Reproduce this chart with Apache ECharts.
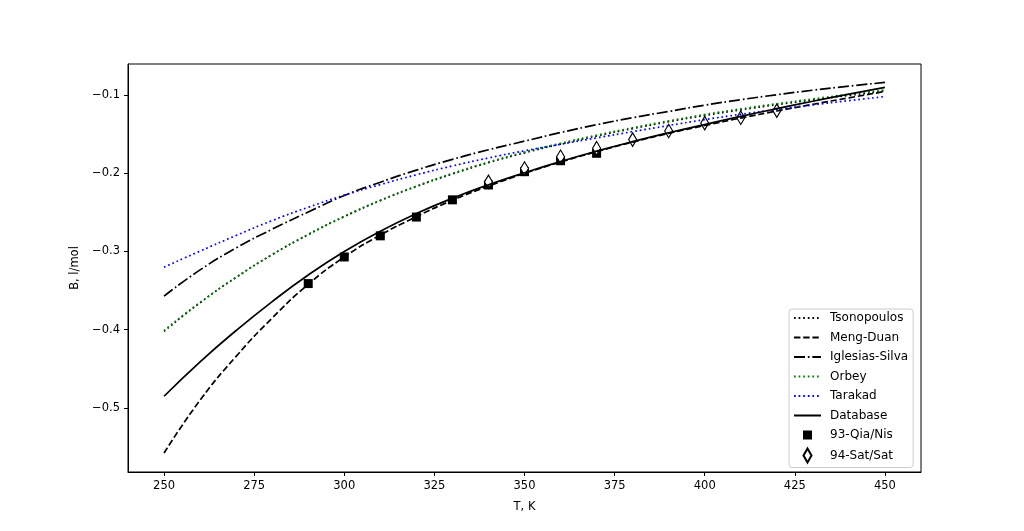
<!DOCTYPE html>
<html lang="en">
<head>
<meta charset="UTF-8">
<title>B vs T</title>
<script src="https://cdn.jsdelivr.net/npm/echarts@6/dist/echarts.min.js"></script>
<style>html,body{margin:0;padding:0;background:#fff;}</style>
</head>
<body>
<div id="main" style="width:1024px;height:531px;"></div>
<script>
// temperature grid for the correlation curves, K
var temps = [250, 260, 270, 280, 290, 300, 310, 320, 330, 340, 350,
             360, 370, 380, 390, 400, 410, 420, 430, 440, 450];

// second virial coefficient B, l/mol
var tsonopoulos = [-0.402, -0.3655, -0.333, -0.304, -0.2785, -0.2555, -0.235, -0.217, -0.201, -0.1865, -0.174,
                   -0.1627, -0.1524, -0.143, -0.1342, -0.1262, -0.119, -0.1124, -0.1063, -0.1005, -0.095];
var mengDuan = [-0.5575, -0.490, -0.434, -0.385, -0.342, -0.307, -0.279, -0.2555, -0.2345, -0.2165, -0.2003,
                -0.1857, -0.1724, -0.1602, -0.149, -0.139, -0.1295, -0.1205, -0.1119, -0.1036, -0.0955];
var iglesiasSilva = [-0.357, -0.3235, -0.2955, -0.2715, -0.2495, -0.2285, -0.2115, -0.196, -0.1823, -0.170, -0.159,
                     -0.148, -0.138, -0.129, -0.121, -0.113, -0.106, -0.0997, -0.0939, -0.0887, -0.084];
var orbey = [-0.401, -0.365, -0.333, -0.304, -0.278, -0.255, -0.2345, -0.2164, -0.2002, -0.1857, -0.173,
             -0.1617, -0.1514, -0.1419, -0.1331, -0.125, -0.1178, -0.1112, -0.105, -0.0991, -0.0935];
var tarakad = [-0.320, -0.2995, -0.2795, -0.2605, -0.2435, -0.228, -0.2145, -0.202, -0.1907, -0.1805, -0.1713,
               -0.163, -0.1548, -0.1468, -0.139, -0.1315, -0.1247, -0.1185, -0.1127, -0.1072, -0.102];
var database = [-0.485, -0.441, -0.401, -0.364, -0.330, -0.300, -0.274, -0.2515, -0.232, -0.2148, -0.1993,
                -0.185, -0.1718, -0.1596, -0.1483, -0.1378, -0.1273, -0.1174, -0.108, -0.099, -0.0903];

// experimental points
var qiaT = [290, 300, 310, 320, 330, 340, 350, 360, 370];
var qiaB = [-0.341, -0.307, -0.280, -0.256, -0.234, -0.215, -0.198, -0.184, -0.1745];
var satT = [340, 350, 360, 370, 380, 390, 400, 410, 420];
var satB = [-0.211, -0.194, -0.179, -0.168, -0.157, -0.146, -0.136, -0.129, -0.120];

// ticks
var xTicks = [250, 275, 300, 325, 350, 375, 400, 425, 450];
var yTicks = [-0.5, -0.4, -0.3, -0.2, -0.1];

var FONT = 'DejaVu Sans';
var LW = 1.7;

function pairs(xs, ys) {
    return xs.map(function (x, i) { return [x, ys[i]]; });
}

function curve(name, values, color, dash) {
    return {
        name: name,
        type: 'line',
        data: pairs(temps, values),
        symbol: 'none',
        smooth: true,
        lineStyle: { color: color, width: LW, type: dash, cap: 'butt', join: 'round' },
        itemStyle: { color: color },
        emphasis: { disabled: true }
    };
}

var myChart = echarts.init(document.getElementById('main'));

var option = {
    animation: false,
    backgroundColor: '#ffffff',
    textStyle: { fontFamily: FONT },
    grid: {
        left: 128, top: 64, right: 103, bottom: 59,
        show: true, borderColor: '#000', borderWidth: 1, backgroundColor: 'transparent'
    },
    xAxis: {
        type: 'value',
        min: 240, max: 460,
        name: 'T, K',
        nameLocation: 'middle',
        nameGap: 29,
        nameTextStyle: { fontFamily: FONT, fontSize: 11.5, color: '#000' },
        axisLine: { show: true, onZero: false, lineStyle: { color: '#000', width: 1 } },
        axisTick: { show: true, customValues: xTicks, length: 4, lineStyle: { color: '#000' } },
        axisLabel: {
            customValues: xTicks, margin: 8, color: '#000', fontFamily: FONT, fontSize: 11.5
        },
        splitLine: { show: false }
    },
    yAxis: {
        type: 'value',
        min: -0.5818, max: -0.0604,
        name: 'B, l/mol',
        nameLocation: 'middle',
        nameGap: 47,
        nameTextStyle: { fontFamily: FONT, fontSize: 11.5, color: '#000' },
        axisLine: { show: true, onZero: false, lineStyle: { color: '#000', width: 1 } },
        axisTick: { show: true, customValues: yTicks, length: 4, lineStyle: { color: '#000' } },
        axisLabel: {
            customValues: yTicks, margin: 8, color: '#000', fontFamily: FONT, fontSize: 11.5,
            formatter: function (v) {
                return (v < 0 ? '\u2212' : '') + Math.abs(v).toFixed(1);
            }
        },
        splitLine: { show: false }
    },
    legend: {
        orient: 'vertical',
        left: 789, top: 309,
        padding: [2, 5, 4, 4],
        itemGap: 5.5,
        itemWidth: 27,
        itemHeight: 14,
        backgroundColor: 'rgba(255,255,255,0.8)',
        borderColor: '#cccccc',
        borderWidth: 1,
        borderRadius: 3,
        selectedMode: false,
        textStyle: { fontFamily: FONT, fontSize: 12, color: '#000', lineHeight: 14, padding: [0, 0, 0, 4] },
        data: [
            { name: 'Tsonopoulos', itemStyle: { opacity: 0 } },
            { name: 'Meng-Duan', itemStyle: { opacity: 0 } },
            { name: 'Iglesias-Silva', itemStyle: { opacity: 0 } },
            { name: 'Orbey', itemStyle: { opacity: 0 } },
            { name: 'Tarakad', itemStyle: { opacity: 0 } },
            { name: 'Database', itemStyle: { opacity: 0 } },
            { name: '93-Qia/Nis', icon: 'path://M-7,-7 M7,7 M-4.5,-4.5 L4.5,-4.5 L4.5,4.5 L-4.5,4.5 Z' },
            { name: '94-Sat/Sat', icon: 'path://M0,-7 L4,0 L0,7 L-4,0 Z' }
        ]
    },
    series: [
        curve('Tsonopoulos', tsonopoulos, '#000000', [1.7, 2.9]),
        curve('Meng-Duan', mengDuan, '#000000', [6.4, 2.8]),
        curve('Iglesias-Silva', iglesiasSilva, '#000000', [11, 2.8, 1.7, 2.8]),
        curve('Orbey', orbey, '#008000', [1.7, 2.9]),
        curve('Tarakad', tarakad, '#0000ff', [1.7, 2.9]),
        curve('Database', database, '#000000', 'solid'),
        {
            name: '93-Qia/Nis',
            type: 'scatter',
            data: pairs(qiaT, qiaB),
            symbol: 'rect',
            symbolSize: 9,
            itemStyle: { color: '#000000', opacity: 1 },
            emphasis: { disabled: true }
        },
        {
            name: '94-Sat/Sat',
            type: 'scatter',
            data: pairs(satT, satB),
            symbol: 'path://M0,-7 L4,0 L0,7 L-4,0 Z',
            symbolSize: [8, 13.5],
            itemStyle: { color: '#ffffff', borderColor: '#000000', borderWidth: 1.2, opacity: 1 },
            emphasis: { disabled: true }
        }
    ]
};

myChart.setOption(option);
</script>
</body>
</html>
